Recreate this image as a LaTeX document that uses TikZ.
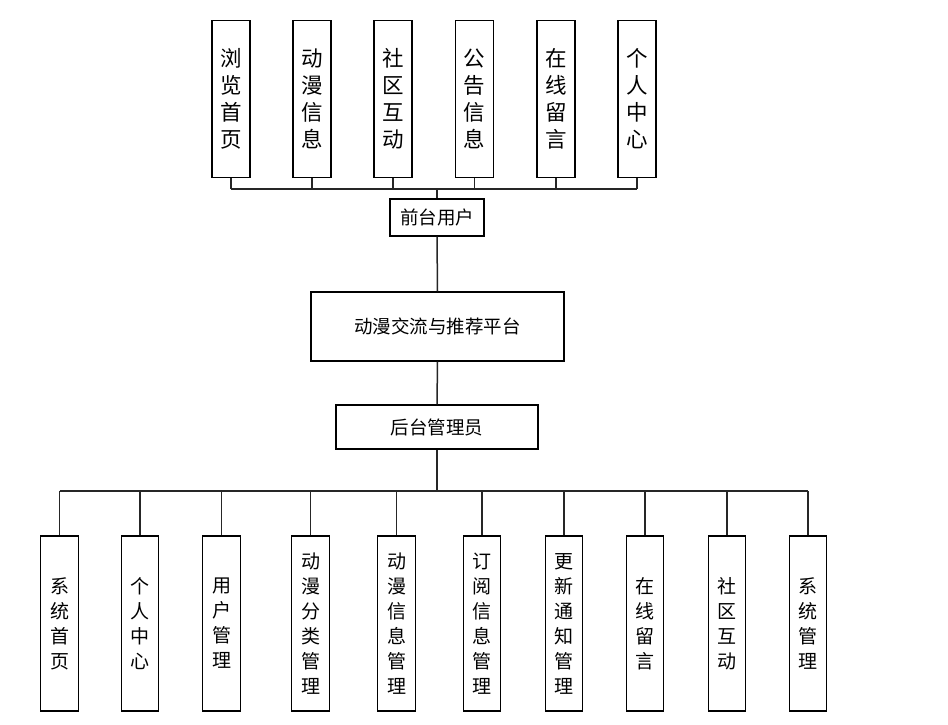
\documentclass[tikz,border=0pt]{standalone}
\usepackage{fontspec}
\setmainfont{Noto Sans CJK SC}
\begin{document}
\begin{tikzpicture}[x=1pt,y=-1pt,
  box/.style={draw=black,line width=1.3pt,fill=white,inner sep=0pt,align=center},
  topbox/.style={box,minimum width=38pt,minimum height=157pt,font=\fontsize{21.5}{27}\selectfont},
  botbox/.style={box,minimum width=37.5pt,minimum height=175pt,font=\fontsize{19}{25}\selectfont},
  hbox/.style={box,font=\fontsize{18.5}{20}\selectfont},
  link/.style={draw=black!85,line width=1.5pt}]
\useasboundingbox (0,0) rectangle (948,724);
\fill[white] (0,0) rectangle (948,724);
% top boxes
\node[topbox] (t1) at (231,99) {浏\\览\\首\\页};
\node[topbox] (t2) at (312,99) {动\\漫\\信\\息};
\node[topbox] (t3) at (393,99) {社\\区\\互\\动};
\node[topbox] (t4) at (474.5,99) {公\\告\\信\\息};
\node[topbox] (t5) at (556,99) {在\\线\\留\\言};
\node[topbox] (t6) at (637,99) {个\\人\\中\\心};
% middle
\node[hbox,minimum width=94pt,minimum height=37pt] (fu) at (437,217.5) {前台用户};
\node[hbox,minimum width=253pt,minimum height=69pt] (pf) at (437.5,326.5) {动漫交流与推荐平台};
\node[hbox,minimum width=202pt,minimum height=44pt] (ad) at (437,427) {后台管理员};
% bottom boxes
\node[botbox] (b1) at (59.5,623.5) {系\\统\\首\\页};
\node[botbox] (b2) at (140,623.5) {个\\人\\中\\心};
\node[botbox] (b3) at (221.5,623.5) {用\\户\\管\\理};
\node[botbox] (b4) at (310.5,623.5) {动\\漫\\分\\类\\管\\理};
\node[botbox] (b5) at (396.5,623.5) {动\\漫\\信\\息\\管\\理};
\node[botbox] (b6) at (482,623.5) {订\\阅\\信\\息\\管\\理};
\node[botbox] (b7) at (564,623.5) {更\\新\\通\\知\\管\\理};
\node[botbox] (b8) at (645,623.5) {在\\线\\留\\言};
\node[botbox] (b9) at (727,623.5) {社\\区\\互\\动};
\node[botbox] (b10) at (808,623.5) {系\\统\\管\\理};
% buses
\coordinate (tb) at (437,189);
\coordinate (bb) at (437,491);
\foreach \n in {t1,t2,t3,t4,t5,t6} \draw[link] (\n.south) -- (\n.south |- tb);
\draw[link] (t1.south |- tb) -- (t6.south |- tb);
\draw[link] (tb) -- (fu.north);
\draw[link] (fu.south) -- (pf.north);
\draw[link] (pf.south) -- (ad.north);
\draw[link] (ad.south) -- (bb);
\draw[link] (b1.north |- bb) -- (b10.north |- bb);
\foreach \n in {b1,b2,b3,b4,b5,b6,b7,b8,b9,b10} \draw[link] (\n.north |- bb) -- (\n.north);
\end{tikzpicture}
\end{document}
